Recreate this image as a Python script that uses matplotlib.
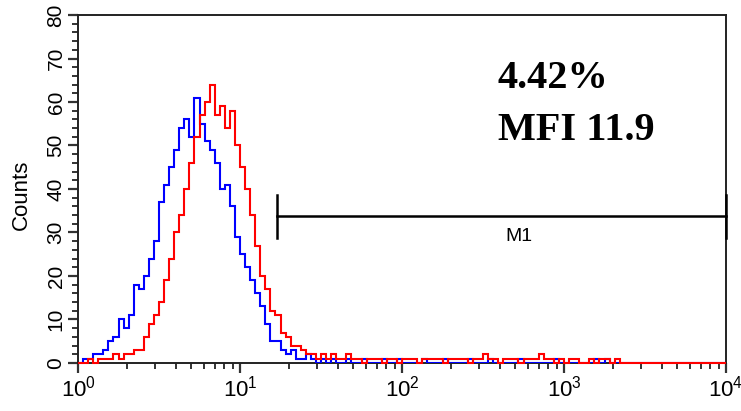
import matplotlib
matplotlib.use('Agg')
import matplotlib.pyplot as plt
from matplotlib.ticker import FixedLocator, MultipleLocator
import numpy as np

# histogram counts per bin (128 bins, 1/32 decade each, 10^0 .. 10^4)
blue_counts = [0, 1, 1, 2, 2, 3, 5, 6, 10, 8, 11, 18, 17, 20, 24, 28,
               37, 41, 45, 49, 54, 56, 52, 61, 55, 51, 49, 46, 40, 41, 36, 29,
               25, 22, 19, 16, 13, 9, 5, 5, 3, 2, 3, 1, 1, 2, 1, 0,
               1, 0, 1, 0, 0, 1, 0, 0, 1, 0, 0, 0, 1, 0, 0, 1,
               0, 0, 0, 0, 1, 0, 0, 0, 1, 0, 0, 0, 0, 1, 0, 0,
               0, 1, 0, 0, 0, 0, 0, 1, 0, 0, 0, 0, 0, 0, 1, 0,
               0, 0, 0, 0, 0, 0, 1, 0, 1, 0, 0, 0, 0, 0, 0, 0,
               0, 0, 0, 0, 0, 0, 0, 0, 0, 0, 0, 0, 0, 0, 0, 0]
red_counts = [0, 0, 1, 0, 1, 1, 1, 2, 1, 2, 2, 3, 3, 6, 9, 11,
              14, 19, 24, 30, 34, 40, 46, 52, 57, 60, 64, 57, 59, 54, 58, 50,
              45, 40, 34, 27, 20, 17, 12, 11, 7, 6, 4, 4, 3, 2, 2, 1,
              2, 1, 2, 1, 1, 2, 1, 1, 0, 1, 1, 1, 0, 1, 1, 0,
              1, 1, 1, 0, 1, 1, 1, 1, 0, 1, 1, 1, 1, 0, 1, 1,
              2, 1, 1, 0, 1, 1, 1, 0, 1, 1, 1, 2, 1, 1, 0, 1,
              0, 1, 1, 0, 0, 1, 0, 1, 1, 0, 1, 0, 0, 0, 0, 0,
              0, 0, 0, 0, 0, 0, 0, 0, 0, 0, 0, 0, 0, 0, 0, 0]
bins_per_decade = 32
marker_lo, marker_hi, marker_y = 16.9, 10000, 33.7
marker_label = 'M1'
pct_text = '4.42%'
mfi_text = 'MFI 11.9'

edges = 10 ** (np.arange(len(blue_counts) + 1) / bins_per_decade)

fig = plt.figure(figsize=(7.41, 4.11), dpi=100)
ax = fig.add_axes([0.1053, 0.1168, 0.8745, 0.8467])

ax.stairs(blue_counts, edges, color='#0000ff', lw=1.5, baseline=None, zorder=3)
ax.stairs(red_counts, edges, color='#ff0000', lw=1.5, baseline=None, zorder=4,
          clip_on=False)

ax.set_xscale('log')
ax.set_xlim(1, 10000)
ax.set_ylim(0, 80)

ax.xaxis.set_major_locator(FixedLocator([1, 10, 100, 1000, 10000]))
ax.set_xticklabels([r'$\mathregular{10^{%d}}$' % i for i in range(5)],
                   fontsize=16, family='Liberation Sans')
ax.yaxis.set_major_locator(MultipleLocator(10))
ax.yaxis.set_minor_locator(MultipleLocator(2))
ax.tick_params(axis='y', labelrotation=90, labelsize=15, pad=2)
for lab in ax.get_yticklabels():
    lab.set_family('Liberation Sans')
    lab.set_va('center')
ax.tick_params(which='major', direction='out', length=7, width=1.6, color='#333333')
ax.tick_params(which='minor', direction='out', length=4, width=1.4, color='#333333')
ax.tick_params(axis='x', pad=2)
for s in ax.spines.values():
    s.set_linewidth(1.4)
    s.set_color('#222222')

ax.set_ylabel('Counts', family='Liberation Sans', fontsize=16)
ax.yaxis.set_label_coords(-0.071, 0.483)

# marker bar
ax.plot([marker_lo, marker_hi], [marker_y, marker_y], color='black', lw=1.8,
        clip_on=False, zorder=5)
for xv in (marker_lo, marker_hi):
    ax.plot([xv, xv], [marker_y - 5, marker_y + 5], color='black', lw=1.8,
            clip_on=False, zorder=5)
ax.text(10 ** 2.722, 29.0, marker_label, ha='center', va='center',
        family='Liberation Sans', fontsize=14)

ax.text(0.648, 0.79, pct_text, transform=ax.transAxes, family='Liberation Serif',
        fontweight='bold', fontsize=29, va='baseline')
ax.text(0.648, 0.64, mfi_text, transform=ax.transAxes, family='Liberation Serif',
        fontweight='bold', fontsize=29, va='baseline')

fig.savefig('out.png', dpi=100)
